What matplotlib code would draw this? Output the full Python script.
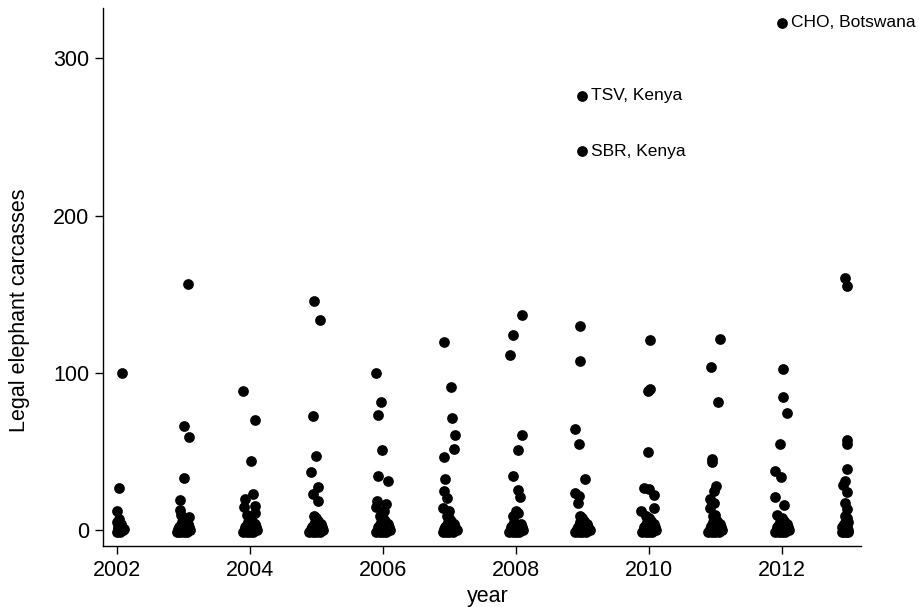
import matplotlib.pyplot as plt

plt.rcParams['font.family'] = ['Liberation Sans', 'DejaVu Sans']

# Data: legal elephant carcasses per site, by year (x jittered as in the original)
# year, horizontal jitter (years) and carcass count for every plotted site
year = (
    [2002] * 14 + [2003] * 25 + [2004] * 26 + [2005] * 26 + [2006] * 28 + [2007] * 29
    + [2008] * 26 + [2009] * 28 + [2010] * 27 + [2011] * 28 + [2012] * 27 + [2013] * 26
)
jitter = [
    # 2002
    0.075, 0.03, 0.0, 0.0, 0.04, 0.09, 0.02, 0.07, 0.01, 0.05, 0.11, 0.0, 0.03, 0.06,
    # 2003
    0.07, 0.0, 0.09, 0.0, -0.05, -0.05, 0.09,
    -0.1, -0.05, 0.0, 0.05, 0.1, -0.08, -0.02, 0.04, 0.09, -0.06, 0.01, 0.07, -0.03, 0.03,
    -0.07, 0.0, 0.06, -0.04,
    # 2004
    -0.1, 0.08, 0.02, 0.05, -0.08, 0.07, -0.09, 0.08,
    -0.11, -0.05, 0.0, 0.05, 0.11, -0.08, -0.02, 0.04, 0.09, -0.06, 0.01, 0.07, -0.03, 0.03,
    -0.07, 0.0, 0.06, -0.04,
    # 2005
    -0.04, 0.055, -0.055, -0.015, -0.09, 0.03, -0.06, 0.03,
    -0.12, -0.05, 0.0, 0.05, 0.1, -0.08, -0.02, 0.04, 0.09, -0.06, 0.01, 0.07, -0.03, 0.03,
    -0.07, 0.0, 0.06, -0.04,
    # 2006
    -0.1, -0.035, -0.08, -0.015, -0.07, 0.075, -0.09, 0.045, -0.1, 0.015,
    -0.11, -0.05, 0.0, 0.05, 0.11, -0.08, -0.02, 0.04, 0.09, -0.06, 0.01, 0.07, -0.03, 0.03,
    -0.07, 0.0, 0.06, -0.04,
    # 2007
    -0.085, 0.02, 0.04, 0.09, 0.075, -0.085, -0.075, -0.09, -0.04, -0.1, 0.0,
    -0.1, -0.05, 0.0, 0.05, 0.11, -0.08, -0.02, 0.04, 0.09, -0.06, 0.01, 0.07, -0.03, 0.03,
    -0.07, 0.0, 0.06, -0.04,
    # 2008
    0.085, -0.05, -0.085, 0.085, 0.03, -0.04, 0.035, 0.06,
    -0.11, -0.05, 0.0, 0.05, 0.11, -0.08, -0.02, 0.04, 0.09, -0.06, 0.01, 0.07, -0.03, 0.03,
    -0.07, 0.0, 0.06, -0.04,
    # 2009
    -0.01, -0.01, -0.03, -0.03, -0.11, -0.055, 0.035, -0.12, -0.055, -0.07,
    -0.11, -0.05, 0.0, 0.05, 0.11, -0.08, -0.02, 0.04, 0.09, -0.06, 0.01, 0.07, -0.03, 0.03,
    -0.07, 0.0, 0.06, -0.04,
    # 2010
    0.015, 0.015, -0.01, -0.01, -0.08, 0.005, 0.08, -0.12, 0.07,
    -0.11, -0.05, 0.0, 0.05, 0.1, -0.08, -0.02, 0.04, 0.09, -0.06, 0.01, 0.07, -0.03, 0.03,
    -0.07, 0.0, 0.06, -0.04,
    # 2011
    0.065, -0.06, 0.045, -0.05, -0.05, 0.015, -0.015, -0.09, -0.025, -0.09,
    -0.11, -0.05, 0.0, 0.05, 0.1, -0.08, -0.02, 0.04, 0.09, -0.06, 0.01, 0.07, -0.03, 0.03,
    -0.07, 0.0, 0.06, -0.04,
    # 2012
    0.0, 0.015, 0.01, 0.08, -0.03, -0.1, -0.015, -0.1, 0.035, -0.08,
    -0.1, -0.05, 0.0, 0.05, 0.1, -0.08, -0.02, 0.04, 0.09, -0.06, 0.01, 0.07, -0.03, 0.03,
    -0.07, 0.0, 0.06,
    # 2013
    -0.055, -0.02, -0.025, -0.015, -0.015, -0.045, -0.09, -0.015, -0.045, -0.02,
    -0.1, -0.07, -0.04, -0.01, 0.0, -0.09, -0.05, -0.02, -0.08, -0.03, -0.06, 0.0, -0.04,
    -0.1, -0.02, -0.05,
]
carcasses = [
    # 2002
    100.0, 26.8, 12.2, -1, -1, 0, 1, 2, 2, 3, 1, 5, 7, 4,
    # 2003
    156.6, 66.5, 59.5, 33.2, 19.5, 12.8, 8.3,
    -1, -1, -1, -1, 0, 1, 1, 0, 2, 3, 3, 4, 5, 6, 2, 8, 0, 10,
    # 2004
    88.4, 69.8, 43.8, 23.2, 20.0, 15.4, 14.6, 10.8,
    -1, -1, -1, -1, 0, 1, 1, 0, 2, 3, 3, 4, 5, 6, 2, 9, 0, 10,
    # 2005
    145.5, 133.7, 72.8, 47.1, 37.1, 27.2, 23.2, 18.3,
    -1, -1, -1, -1, 0, 1, 1, 0, 2, 3, 3, 4, 5, 6, 2, 8, 0, 9,
    # 2006
    100.2, 81.6, 73.1, 50.9, 34.5, 31.3, 18.6, 16.7, 14.6, 12.5,
    -1, -1, -1, -1, 0, 1, 1, 0, 2, 3, 3, 4, 5, 6, 2, 8, 0, 9,
    # 2007
    119.7, 90.9, 71.6, 60.6, 51.5, 46.6, 32.8, 25.2, 20.5, 14.0, 12.5,
    -1, -1, -1, -1, 0, 1, 1, 0, 2, 3, 3, 4, 5, 6, 2, 8, 0, 9,
    # 2008
    136.7, 124.0, 111.2, 60.6, 50.9, 34.7, 25.6, 21.0,
    -1, -1, -1, -1, 0, 1, 1, 0, 2, 3, 3, 4, 5, 11, 2, 12, 0, 9,
    # 2009
    276.3, 241.1, 129.9, 107.4, 64.2, 55.1, 32.4, 23.5, 22.0, 17.5,
    -1, -1, -1, -1, 0, 1, 1, 0, 2, 3, 3, 4, 5, 6, 2, 8, 0, 9,
    # 2010
    121.0, 89.6, 88.5, 49.8, 27.1, 26.0, 22.4, 12.5, 14.0,
    -1, -1, -1, -1, 0, 1, 1, 0, 2, 3, 3, 4, 5, 6, 2, 8, 0, 9,
    # 2011
    121.6, 103.6, 81.4, 45.5, 43.6, 28.2, 25.0, 19.9, 17.2, 14.0,
    -1, -1, -1, -1, 0, 1, 1, 0, 2, 3, 3, 4, 5, 6, 2, 10, 0, 9,
    # 2012
    322.7, 102.5, 84.9, 74.8, 54.7, 37.7, 34.1, 21.4, 16.1, 9.7,
    -1, -1, -1, -1, 0, 1, 1, 0, 2, 3, 3, 4, 5, 6, 2, 8, 0,
    # 2013
    160.2, 155.5, 57.4, 54.9, 38.8, 31.3, 28.8, 24.3, 17.2, 13.5,
    -1, -1, -1, -1, 0, 1, 0, 2, 3, 3, 4, 5, 6, 2, 8, 9,
]

# labelled outliers
label_text = ["TSV, Kenya", "SBR, Kenya", "CHO, Botswana"]
label_year = [2009, 2009, 2012]
label_jitter = [-0.01, -0.01, 0.0]
label_value = [276.3, 241.1, 322.7]

xpos = [y + j for y, j in zip(year, jitter)]

fig = plt.figure(figsize=(9.2, 6.07), dpi=100)
ax = fig.add_axes([0.112, 0.1005, 0.824, 0.8863])

ax.scatter(xpos, carcasses, s=60, color='black', linewidths=0, zorder=3)

for txt, y, j, v in zip(label_text, label_year, label_jitter, label_value):
    ax.annotate(txt, (y + j, v), xytext=(6.5, 0), textcoords='offset points',
                va='center', ha='left', fontsize=12.5)

ax.set_xlim(2001.79, 2013.19)
ax.set_ylim(-10, 332)
ax.set_xticks(range(2002, 2013, 2))
ax.set_yticks([0, 100, 200, 300])

for side in ['top', 'right']:
    ax.spines[side].set_visible(False)
ax.spines['left'].set_linewidth(1.0)
ax.spines['bottom'].set_linewidth(1.0)
ax.tick_params(axis='both', length=6, width=1.0, labelsize=15.5, pad=4)

ax.set_xlabel("year", fontsize=15.5)
ax.set_ylabel("Legal elephant carcasses", fontsize=15.5)
ax.xaxis.set_label_coords(0.507, -0.074)
ax.yaxis.set_label_coords(-0.096, 0.439)

fig.savefig("out.png", dpi=100)
